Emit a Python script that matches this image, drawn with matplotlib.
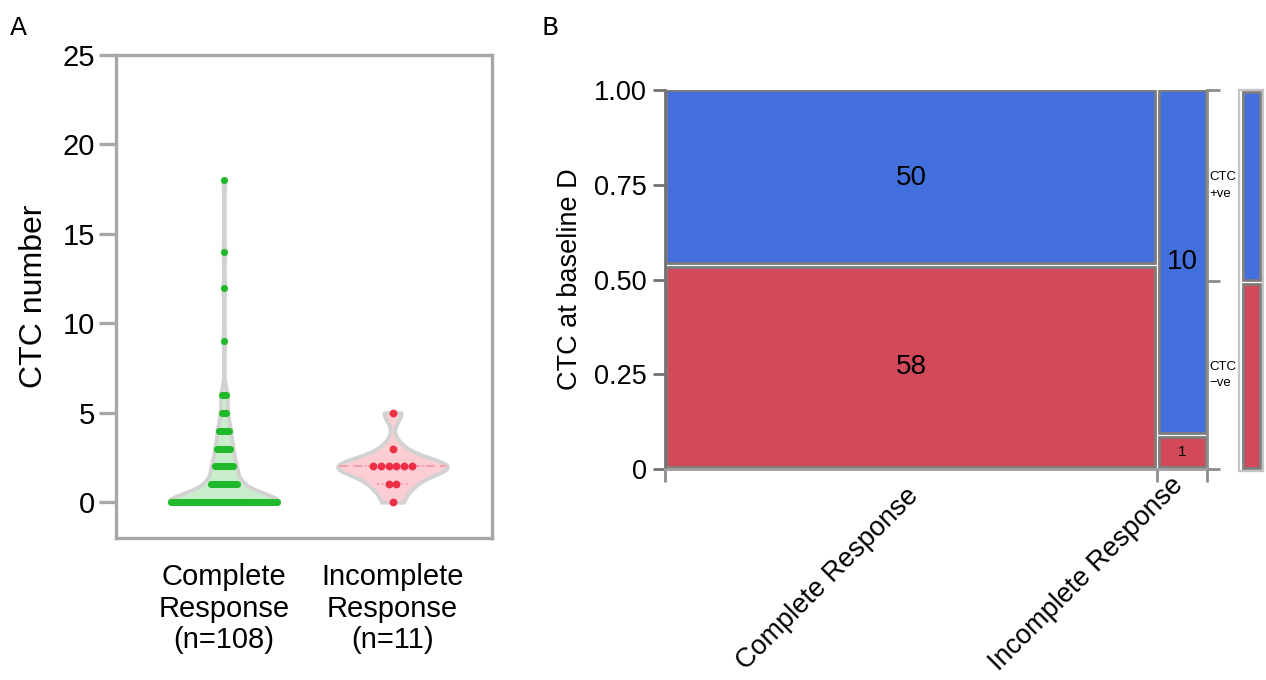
import numpy as np
import matplotlib.pyplot as plt
import matplotlib.transforms as mtransforms
from matplotlib.patches import Rectangle

plt.rcParams['font.family'] = ['Liberation Sans', 'DejaVu Sans']

# ---------------- data ----------------
# Panel A: CTC counts per patient, as (value, number of patients)
groups = ["Complete\nResponse\n(n=108)", "Incomplete\nResponse\n(n=11)"]
complete_values = [0, 1, 2, 3, 4, 5, 6, 9, 12, 14, 18]
complete_counts = [58, 15, 11, 8, 6, 3, 3, 1, 1, 1, 1]
incomplete_values = [0, 1, 2, 3, 5]
incomplete_counts = [1, 2, 6, 1, 1]

# Panel B: mosaic counts
responses = ["Complete Response", "Incomplete Response"]
ctc_pos = [50, 10]
ctc_neg = [58, 1]
ctc_labels = ["CTC\n+ve", "CTC\n\u2212ve"]

# ---------------- styles ----------------
W, H = 1266, 680
fig = plt.figure(figsize=(W / 100, H / 100), dpi=100)

GREEN_FILL = '#c9edcb'
PINK_FILL = '#fccdd3'
GREEN_DOT = '#1fb92b'
RED_DOT = '#ee3047'
OUTLINE = '#d2d2d2'
AX_GRAY = '#a7a7a7'
BLUE = '#4370dc'
RED = '#d24a5a'
CELL_EDGE = '#7d7d7d'


def fax(l, t, r, b):
    return fig.add_axes([l / W, 1 - b / H, (r - l) / W, (b - t) / H])


# ---------------- Panel A ----------------
axA = fax(116, 55, 492, 538)
axA.set_xlim(-0.64, 1.59)
axA.set_ylim(-2, 25)

def kde(samples, grid, h):
    d = (grid[:, None] - samples[None, :]) / h
    return np.exp(-0.5 * d ** 2).sum(axis=1)

half_w = 0.325
bw = 0.5
specs = [
    (complete_values, complete_counts, GREEN_FILL, GREEN_DOT, 0.011, 26, '#9fdca4'),
    (incomplete_values, incomplete_counts, PINK_FILL, RED_DOT, 0.046, 32, '#f59aa4'),
]
for i, (vals, cnts, fill, dotc, sp, sz, linec) in enumerate(specs):
    samples = np.repeat(np.array(vals, float), cnts)
    grid = np.linspace(samples.min(), samples.max(), 400)
    dens = kde(samples, grid, bw)
    dens = dens / dens.max() * half_w
    axA.fill_betweenx(grid, i - dens, i + dens, facecolor=fill,
                      edgecolor=OUTLINE, linewidth=2.8, zorder=2)
    # quartile lines
    med = np.percentile(samples, 50, method='lower')
    q1 = np.percentile(samples, 25, method='lower')
    q3 = np.percentile(samples, 75, method='lower')
    for q, ls, frac in [(q1, ':', 0.6), (q3, ':', 0.6), (med, (0, (5, 3)), 0.97)]:
        wq = np.interp(q, grid, dens) * frac
        axA.plot([i - wq, i + wq], [q, q], color=linec, lw=1.3, ls=ls, zorder=3)
    # dots
    for v, n in zip(vals, cnts):
        xs = i + (np.arange(n) - (n - 1) / 2) * sp
        axA.scatter(xs, np.full(n, v), s=sz, color=dotc, linewidths=0, zorder=4)

for s in axA.spines.values():
    s.set_color(AX_GRAY)
    s.set_linewidth(2.4)
axA.set_yticks([0, 5, 10, 15, 20, 25])
axA.tick_params(axis='y', direction='out', length=12, width=2.4, color=AX_GRAY,
                labelsize=21, pad=3)
axA.set_xticks([0, 1])
axA.set_xticklabels(groups, fontsize=21, linespacing=1.17)
axA.tick_params(axis='x', length=0, pad=18)
axA.set_ylabel("CTC number", fontsize=23, labelpad=10)

fig.text(10 / W, 1 - 35 / H, "A", fontsize=18, family=['DejaVu Sans'])
fig.text(542 / W, 1 - 35 / H, "B", fontsize=18, family=['DejaVu Sans'])

# ---------------- Panel B ----------------
axB = fax(665, 90, 1207, 469)
axB.set_xlim(0, 1)
axB.set_ylim(0, 1)

totals = np.array(ctc_pos) + np.array(ctc_neg)
col_w = totals / totals.sum()
col_x = np.concatenate([[0], np.cumsum(col_w)[:-1]])
gx, gy = 0.0075, 0.0105
for j in range(len(responses)):
    x0, w = col_x[j], col_w[j]
    neg_frac = ctc_neg[j] / totals[j]
    cells = [(0, neg_frac, RED, ctc_neg[j]), (neg_frac, 1 - neg_frac, BLUE, ctc_pos[j])]
    for y0, h, c, n in cells:
        l = x0 + (gx / 2 if j > 0 else 0.002)
        r = x0 + w - (gx / 2 if j < len(responses) - 1 else 0.002)
        b = y0 + (gy / 2 if y0 > 0 else 0.006)
        t = y0 + h - (gy / 2 if y0 + h < 1 else 0.0)
        axB.add_patch(Rectangle((l, b), r - l, t - b, facecolor=c,
                                edgecolor=CELL_EDGE, linewidth=2, zorder=2))
        fs = 20 if n >= 10 else 11
        axB.text(x0 + w / 2, y0 + h / 2, str(n), ha='center', va='center',
                 fontsize=fs, color='black', zorder=3)

for side in ['left', 'bottom', 'right']:
    axB.spines[side].set_linewidth(2)
axB.spines['left'].set_color('#727272')
axB.spines['bottom'].set_color('#a0a0a0')
axB.spines['right'].set_color('#8c8c8c')
axB.spines['top'].set_visible(False)

axB.set_yticks([0, 0.25, 0.5, 0.75, 1.0])
axB.set_yticklabels(["0", "0.25", "0.50", "0.75", "1.00"])
axB.tick_params(axis='y', direction='out', length=9, width=2, color='#727272',
                labelsize=19.5, pad=4)
axB.set_ylabel("CTC at baseline D", fontsize=19.5, labelpad=8)

# category boundaries as ticks, rotated category names below
bounds = np.concatenate([col_x, [1.0]])
axB.set_xticks(bounds)
axB.set_xticklabels([])
axB.tick_params(axis='x', direction='out', length=9, width=2, color='#8c8c8c')
centers = col_x + col_w / 2
label_shift_px = [(-6, -14), (-12, -3)]
base = mtransforms.blended_transform_factory(axB.transData, axB.transAxes)
for cx, name, (dx, dy) in zip(centers, responses, label_shift_px):
    tr = base + mtransforms.ScaledTranslation(dx / 100, dy / 100, fig.dpi_scale_trans)
    axB.text(cx, 0, name, transform=tr, rotation=45, rotation_mode='anchor',
             ha='right', va='top', fontsize=19.5, clip_on=False)

# right axis with marginal split
pos_total = sum(ctc_pos)
neg_total = sum(ctc_neg)
marg_neg = neg_total / (pos_total + neg_total)
axR = axB.twinx()
axR.set_ylim(0, 1)
axR.set_yticks([0, marg_neg, 1.0])
axR.set_yticklabels([])
axR.tick_params(axis='y', direction='out', length=9, width=2, color='#8c8c8c')
for s in axR.spines.values():
    s.set_visible(False)
axR.text(1.005, (marg_neg + 1) / 2, ctc_labels[0], transform=axR.transAxes,
         ha='left', va='center', fontsize=9.5, linespacing=1.5)
axR.text(1.005, marg_neg / 2, ctc_labels[1], transform=axR.transAxes,
         ha='left', va='center', fontsize=9.5, linespacing=1.5)

# marginal bar
axM = fax(1239, 90, 1263, 471)
axM.set_xlim(0, 1)
axM.set_ylim(0, 1)
for s in axM.spines.values():
    s.set_color('#c4c4c4')
    s.set_linewidth(1.6)
axM.set_xticks([])
axM.set_yticks([])
axM.add_patch(Rectangle((0.18, 0.008), 0.68, marg_neg - 0.008 - 0.006,
                        facecolor=RED, edgecolor=CELL_EDGE, linewidth=2))
axM.add_patch(Rectangle((0.18, marg_neg + 0.006), 0.68, 1 - marg_neg - 0.006 - 0.006,
                        facecolor=BLUE, edgecolor=CELL_EDGE, linewidth=2))

fig.savefig("out.png", dpi=100)
